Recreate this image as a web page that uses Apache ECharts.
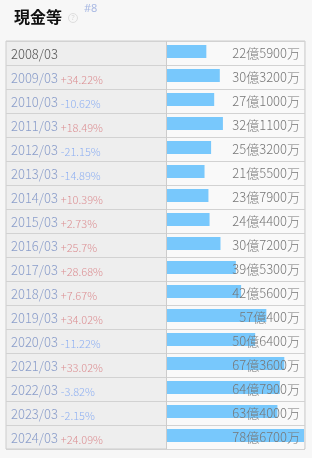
<!DOCTYPE html>
<html><head><meta charset="utf-8">
<script src="https://cdn.jsdelivr.net/npm/echarts@6/dist/echarts.min.js"></script>
<style>html,body{margin:0;padding:0;background:#f7f7f7;}#c{width:312px;height:458px;}</style>
</head><body><div id="c"></div>
<script>
const categories = ['2008/03','2009/03','2010/03','2011/03','2012/03','2013/03','2014/03','2015/03','2016/03','2017/03','2018/03','2019/03','2020/03','2021/03','2022/03','2023/03','2024/03'];
// values in 万 (10,000 yen)
const values = [225900,303200,271000,321100,253200,215500,237900,244400,307200,395300,425600,570400,506400,673600,647900,634000,786700];
const changes = ['','+34.22%','-10.62%','+18.49%','-21.15%','-14.89%','+10.39%','+2.73%','+25.7%','+28.68%','+7.67%','+34.02%','-11.22%','+33.02%','-3.82%','-2.15%','+24.09%'];

const FONT = '"Noto Sans CJK JP", "Noto Sans", sans-serif';
function fmt(v){ return Math.floor(v/10000) + '億' + (v % 10000) + '万'; }

const chart = echarts.init(document.getElementById('c'));
chart.setOption({
  backgroundColor: '#f7f7f7',
  animation: false,
  textStyle: { fontFamily: FONT },
  grid: [
    { left: 6, top: 41, width: 299, height: 408, show: true, backgroundColor: '#eeeeee', borderColor: '#cccccc', borderWidth: 1 },
    { left: 167, top: 41, width: 137, height: 408, show: true, backgroundColor: '#f9f9f9', borderWidth: 0 }
  ],
  xAxis: [
    { gridIndex: 0, type: 'value', show: false, min: 0, max: 1 },
    { gridIndex: 1, type: 'value', show: false, min: 0, max: 786700 }
  ],
  yAxis: [
    { gridIndex: 0, type: 'category', data: categories, inverse: true,
      axisLine: { show: false }, axisTick: { show: false },
      splitLine: { show: true, lineStyle: { color: '#d2d2d2', width: 1 } },
      axisLabel: { inside: true, margin: 5, align: 'left', padding: [3,0,0,0],
        formatter: function(v, i){
          if (i === 0) return '{first|' + v + '}';
          const c = changes[i];
          return '{date|' + v + '}' + (c.charAt(0) === '+' ? '{up|' + c + '}' : '{down|' + c + '}');
        },
        rich: {
          first: { fontSize: 13, fontWeight: 300, color: '#555555', fontFamily: FONT },
          date: { fontSize: 13, fontWeight: 300, color: '#8a9dca', fontFamily: FONT },
          up: { fontSize: 11, fontWeight: 300, color: '#dc8f93', fontFamily: FONT, padding: [2,0,0,3] },
          down: { fontSize: 11, fontWeight: 300, color: '#8fb0f2', fontFamily: FONT, padding: [2,0,0,3] }
        }
      } },
    { gridIndex: 1, type: 'category', data: categories, inverse: true, position: 'right',
      axisLine: { show: false }, axisTick: { show: false }, splitLine: { show: false },
      axisLabel: { inside: true, margin: 4, fontSize: 13, fontWeight: 300, color: '#777777', fontFamily: FONT, padding: [3,0,0,0],
        formatter: function(v, i){ return fmt(values[i]); } },
      z: 10 }
  ],
  series: [{
    type: 'custom',
    xAxisIndex: 1, yAxisIndex: 1,
    data: values.map((v, i) => [v, i]),
    encode: { x: 0, y: 1 },
    renderItem: function(params, api){
      const v = api.value(0), i = api.value(1);
      const s = api.coord([0, i]);
      const e = api.coord([v, i]);
      const band = api.size([0, 1])[1];
      const top = s[1] - band / 2 + 4;
      return { type: 'rect', shape: { x: s[0], y: top, width: e[0] - s[0], height: 13 },
               style: { fill: '#78c8fc' } };
    },
    z: 2
  }],
  graphic: [
    { type: 'line', shape: { x1: 166.5, y1: 41, x2: 166.5, y2: 449 }, style: { stroke: '#cccccc', lineWidth: 1 }, z: 5 },
    { type: 'text', left: 14, top: 9, style: { text: '現金等', font: 'bold 16px "Noto Sans CJK JP"', fill: '#111111' } },
    { type: 'circle', shape: { cx: 73, cy: 18, r: 4.5 }, style: { fill: 'none', stroke: '#dedede', lineWidth: 1 } },
    { type: 'text', x: 73, y: 18, style: { text: '?', font: '7px "Noto Sans"', fill: '#d8d8d8', align: 'center', verticalAlign: 'middle' } },
    { type: 'text', left: 84, top: 3, style: { text: '#8', font: '11px "Noto Sans"', fill: '#a9b9e3' } }
  ]
});
</script></body></html>
